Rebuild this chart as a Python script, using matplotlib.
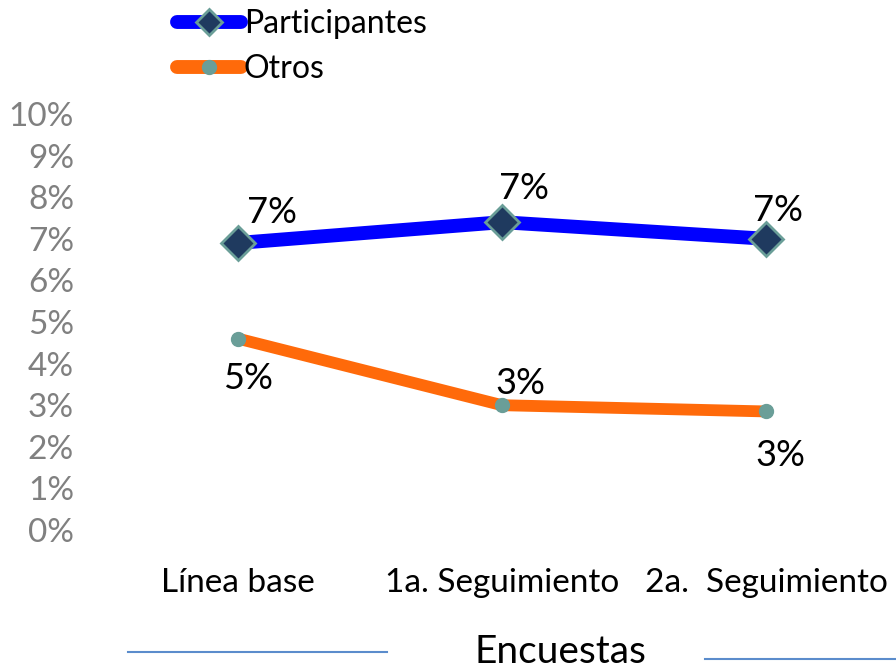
import matplotlib.pyplot as plt
from matplotlib.lines import Line2D

plt.rcParams['font.family'] = ['Lato', 'DejaVu Sans']

categorias = ['Línea base', '1a. Seguimiento', '2a.  Seguimiento']
participantes = [6.9, 7.4, 7.0]
otros = [4.6, 3.0, 2.85]
ticks = list(range(0, 11))

fig = plt.figure(figsize=(8.96, 6.70), dpi=100)
ax = fig.add_axes([106 / 896, (670 - 530) / 670, 792 / 896, 416 / 670])

x = [0.5, 1.5, 2.5]
ax.plot(x, participantes, color='#0000ff', lw=10, solid_capstyle='round',
        marker='D', ms=17, mfc='#1f3a5f', mec='#6a9e98', mew=2, zorder=3)
ax.plot(x, otros, color='#ff6a0a', lw=8.5, solid_capstyle='round',
        marker='o', ms=10, mfc='#6a9e98', mec='#6a9e98', zorder=3)

# etiquetas de datos
off_p = [(34, 30), (22, 34), (12, 28)]
for xi, v, (dx, dy) in zip(x, participantes, off_p):
    ax.annotate(f'{round(v)}%', (xi, v), xytext=(dx, dy), textcoords='offset pixels',
                ha='center', va='center', fontsize=26)
off_o = [(10, -40), (18, 22), (14, -44)]
for xi, v, (dx, dy) in zip(x, otros, off_o):
    ax.annotate(f'{round(v)}%', (xi, v), xytext=(dx, dy), textcoords='offset pixels',
                ha='center', va='center', fontsize=26)

ax.set_xlim(0, 3)
ax.set_ylim(0, 10)
ax.set_yticks(ticks)
ax.set_yticklabels([f'{t}%' for t in ticks], fontsize=24, color='#808080')
ax.set_xticks(x)
ax.set_xticklabels(categorias, fontsize=24)
ax.tick_params(length=0)
ax.tick_params(axis='y', pad=23)
ax.tick_params(axis='x', pad=27)
for s in ax.spines.values():
    s.set_visible(False)

# titulo del eje con lineas
fig.text(560 / 896, 1 - 652 / 670, 'Encuestas', ha='center', va='center', fontsize=28)
fig.add_artist(Line2D([128 / 896, 387 / 896], [1 - 652 / 670] * 2, color='#5b8ccc', lw=1.5))
fig.add_artist(Line2D([705 / 896, 1.0], [1 - 659 / 670] * 2, color='#5b8ccc', lw=1.5))

h1 = Line2D([], [], color='#0000ff', lw=10, solid_capstyle='round',
            marker='D', ms=13, mfc='#1f3a5f', mec='#6a9e98', mew=2)
h2 = Line2D([], [], color='#ff6a0a', lw=10, solid_capstyle='round',
            marker='o', ms=10, mfc='#6a9e98', mec='#6a9e98')
fig.legend([h1, h2], ['Participantes', 'Otros'], loc='upper left',
           bbox_to_anchor=(164 / 896, 1.005), frameon=False, fontsize=23,
           handlelength=2.0, handletextpad=0.1, labelspacing=0.45, borderaxespad=0)

fig.savefig('out.png', dpi=100)
